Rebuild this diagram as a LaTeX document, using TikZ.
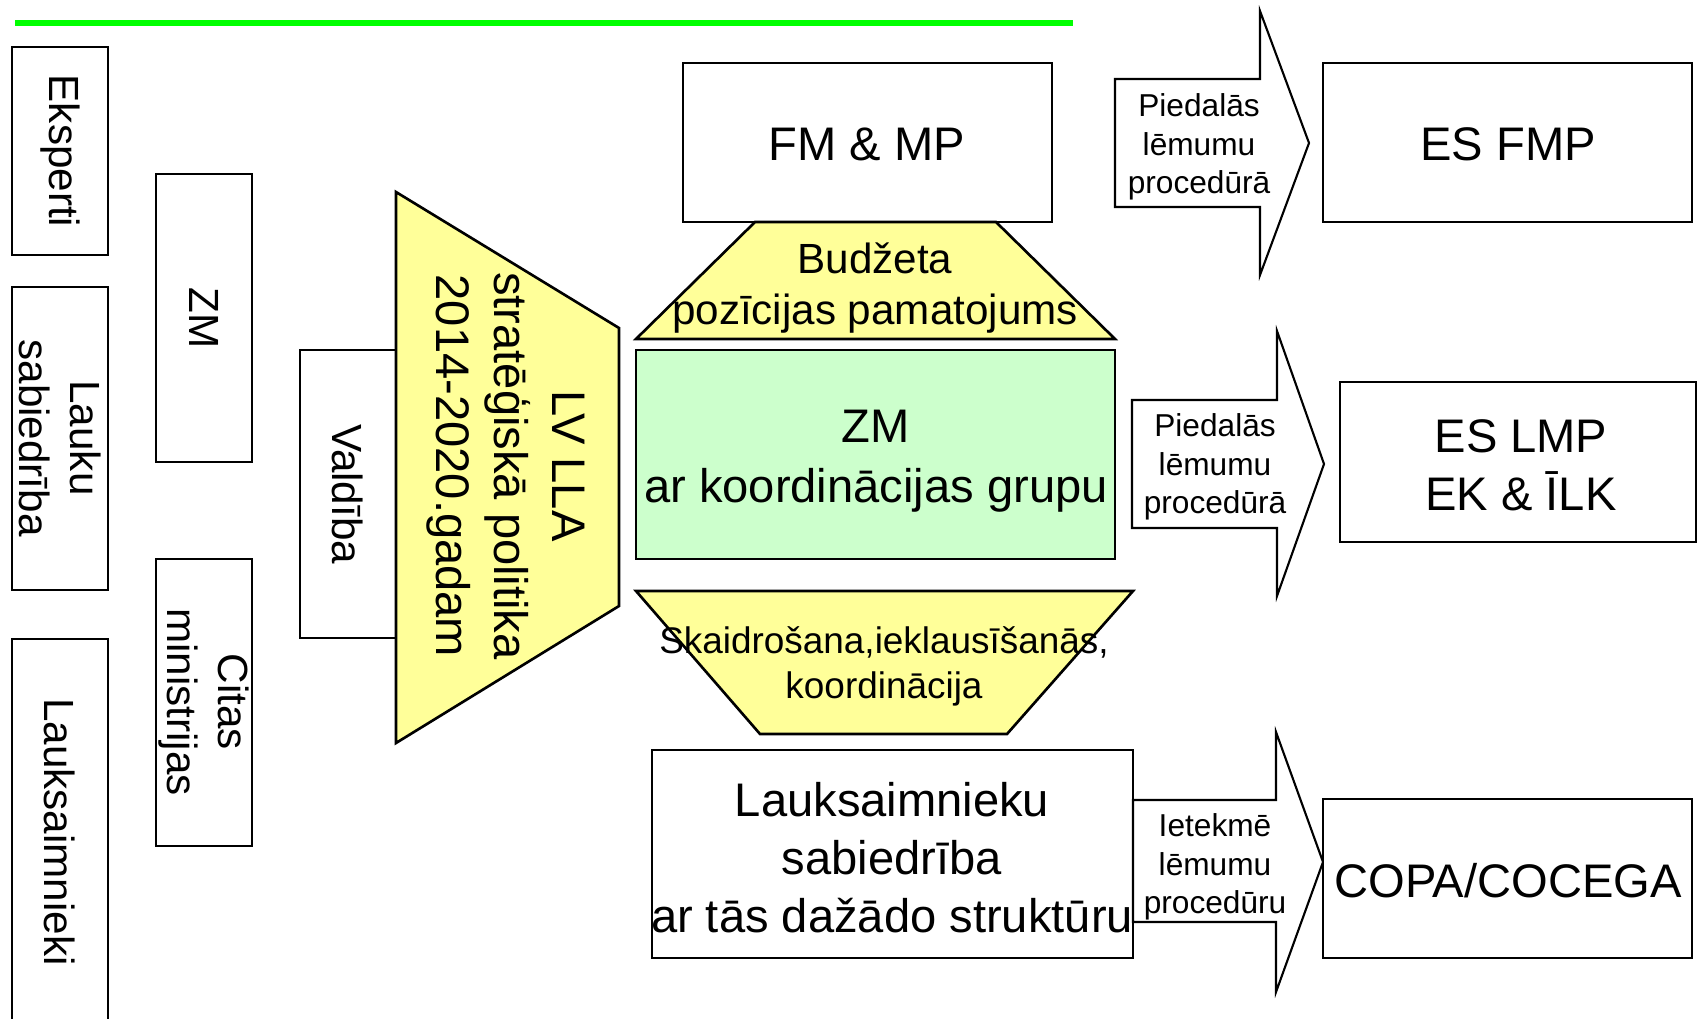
\documentclass[tikz,border=0pt]{standalone}
\usepackage{fontspec}
\setmainfont{Liberation Sans}
\usepackage{xcolor}

\definecolor{trapyellow}{HTML}{FFFF99}
\definecolor{zmgreen}{HTML}{CCFFCC}
\definecolor{topgreen}{HTML}{00FF00}

\tikzset{
  box/.style={draw=black, line width=0.75pt, fill=white},
  trap/.style={draw=black, line width=0.75pt, fill=trapyellow},
  blockarrow/.style={draw=black, line width=0.6pt, fill=white},
  bigtext/.style={inner sep=0pt, align=center, font=\fontsize{13.4}{16.5}\selectfont},
  midtext/.style={inner sep=0pt, align=center, font=\fontsize{12}{14.5}\selectfont},
  skaidtext/.style={inner sep=0pt, align=center, font=\fontsize{10.5}{12.8}\selectfont},
  smalltext/.style={inner sep=0pt, align=center, font=\fontsize{9}{11}\selectfont},
  sidetext/.style={midtext, rotate=-90}
}

\begin{document}
\begin{tikzpicture}[x=0.01cm, y=-0.01cm]
  \useasboundingbox (0,0) rectangle (1698,1018);

  % Green line on top
  \draw[topgreen, line width=1.5pt] (15,23) -- (1073,23);

  % Left column
  \draw[box] (12,47) rectangle (108,255);
  \node[sidetext] (eksperti) at (60,151) {Eksperti};
  \draw[box] (12,287) rectangle (108,590);
  \node[sidetext] (lauku) at (60,438) {Lauku\\sabiedrība};
  \draw[box] (12,1020) -- (12,639) -- (108,639) -- (108,1020);
  \node[sidetext] (lauksaimnieki) at (60,832) {Lauksaimnieki};

  % Second column
  \draw[box] (156,174) rectangle (252,462);
  \node[sidetext] (zmside) at (204,318) {ZM};
  \draw[box] (156,559) rectangle (252,846);
  \node[sidetext] (citas) at (204,702) {Citas\\ministrijas};

  % Valdiba and the policy trapezoid
  \draw[box] (300,350) rectangle (396,638);
  \node[sidetext] (valdiba) at (348,494) {Valdība};
  \filldraw[trap] (396,192) -- (619,328) -- (619,606) -- (396,743) -- cycle;
  \node[bigtext, rotate=-90] (politika) at (506,466) {LV LLA\\stratēģiskā politika\\2014-2020.gadam};

  % Middle column
  \draw[box] (683,63) rectangle (1052,222);
  \node[bigtext] (fmmp) at (867,144) {FM \& MP};
  \filldraw[trap] (755,222) -- (996,222) -- (1115,339) -- (636,339) -- cycle;
  \node[midtext] (budzets) at (875,288) {Budžeta\\pozīcijas pamatojums};
  \filldraw[draw=black, line width=0.75pt, fill=zmgreen] (636,350) rectangle (1115,559);
  \node[bigtext, font=\fontsize{13.4}{17}\selectfont] (zmgrupa) at (876,461) {ZM\\ar koordinācijas grupu};
  \filldraw[trap] (636,591) -- (1133,591) -- (1007,734) -- (760,734) -- cycle;
  \node[skaidtext] (skaidrosana) at (884,666) {Skaidrošana,ieklausīšanās,\\koordinācija};
  \draw[box] (652,750) rectangle (1133,958);
  \node[bigtext] (lauksabiedriba) at (892,858) {Lauksaimnieku\\sabiedrība\\ar tās dažādo struktūru};

  % Block arrows
  \filldraw[blockarrow] (1115,79) -- (1260,79) -- (1260,11) -- (1309,143) -- (1260,275) -- (1260,207) -- (1115,207) -- cycle;
  \node[smalltext] (piedalas1) at (1199,147) {Piedalās\\lēmumu\\procedūrā};
  \filldraw[blockarrow] (1132,400) -- (1277,400) -- (1277,331) -- (1324,464) -- (1277,596) -- (1277,528) -- (1132,528) -- cycle;
  \node[smalltext] (piedalas2) at (1215,467) {Piedalās\\lēmumu\\procedūrā};
  \filldraw[blockarrow] (1133,800) -- (1276,800) -- (1276,732) -- (1323,862) -- (1276,992) -- (1276,922) -- (1133,922) -- cycle;
  \node[smalltext] (ietekme) at (1215,867) {Ietekmē\\lēmumu\\procedūru};

  % Right column
  \draw[box] (1323,63) rectangle (1692,222);
  \node[bigtext] (esfmp) at (1508,144) {ES FMP};
  \draw[box] (1340,382) rectangle (1696,542);
  \node[bigtext] (eslmp) at (1521,465) {ES LMP\\EK \& ĪLK};
  \draw[box] (1323,799) rectangle (1692,958);
  \node[bigtext] (copa) at (1508,881) {COPA/COCEGA};
\end{tikzpicture}
\end{document}
